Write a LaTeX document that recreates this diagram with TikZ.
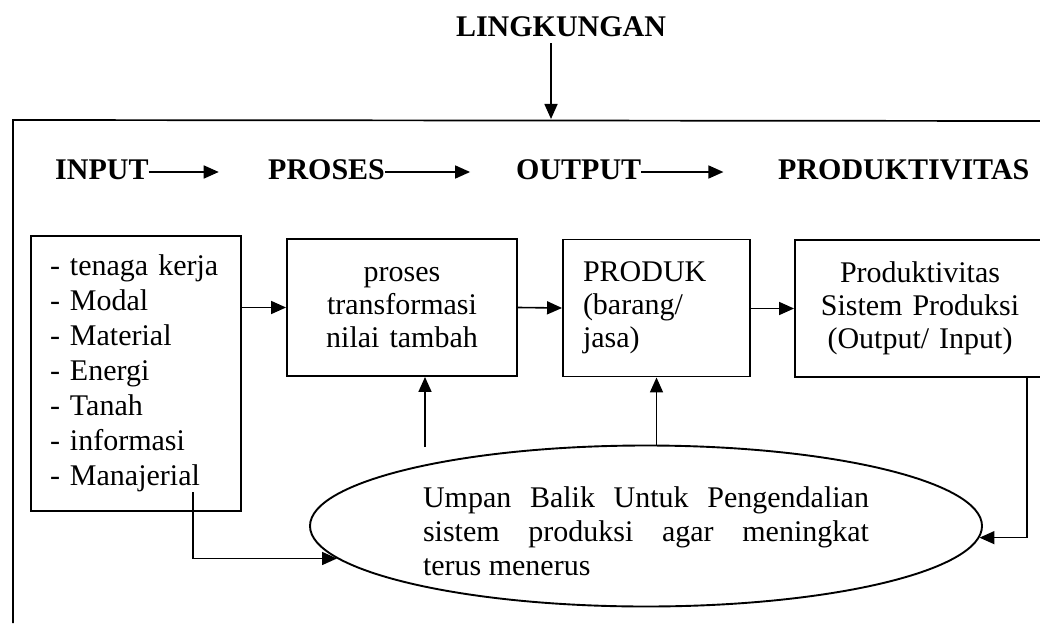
\documentclass[tikz,border=0pt]{standalone}
\usepackage{fontspec}
\setmainfont{Liberation Serif}
\usetikzlibrary{arrows.meta,shapes.geometric,calc}
\tikzset{
  every node/.style={font=\fontsize{30}{33}\selectfont},
  hdr/.style={font=\fontsize{30}{33}\selectfont\bfseries, inner sep=0pt, anchor=base west},
  box/.style={draw, line width=1.9pt, inner ysep=0pt, minimum height=137pt},
  arr/.style={line width=1.6pt, -{Triangle[length=15pt,width=13pt]}},
  frame/.style={line width=1.7pt},
}
\begin{document}
\begin{tikzpicture}[x=1pt,y=-1pt]
\useasboundingbox (0,0) rectangle (1040,623);
\clip (0,0) rectangle (1040,623);
% environment title and arrow
\node[hdr, anchor=base] (ling) at (561,37) {LINGKUNGAN};
\coordinate (lingtip) at (551,119);
\draw[arr] (ling.south -| lingtip) ++(0,6) -- (lingtip);
% frame (open at right and bottom)
\draw[frame] (13,623) -- (13,120) -- (1040,121);
% header row
\node[hdr] (hin)  at (55,179)  {INPUT};
\node[hdr] (hpr)  at (268,179) {PROSES};
\node[hdr] (hout) at (516,179) {OUTPUT};
\node[hdr] (hprod) at (778,179) {PRODUKTIVITAS};
\draw[arr] ([yshift=7pt]hin.base east) -- ++(70,0);
\draw[arr] ([yshift=7pt]hpr.base east) -- ++(85,0);
\draw[arr] ([yshift=7pt]hout.base east) -- ++(82,0);
% boxes
\node[box, font=\fontsize{30}{35}\selectfont, text width=172pt, inner xsep=19pt,
      minimum height=275pt, align=left] (b1) at (136,373.5)
  {- tenaga kerja\\- Modal\\- Material\\- Energi\\- Tanah\\- informasi\\- Manajerial};
\node[box, text width=200pt, inner xsep=15pt, align=center] (b2) at (402,307.5)
  {proses\\transformasi\\nilai tambah};
\node[box, text width=147pt, inner xsep=20pt, align=left] (b3) at (656.5,308)
  {PRODUK\\(barang/\\jasa)};
\node[box, text width=230pt, inner xsep=10pt, align=center] (b4) at (920,308.5)
  {Produktivitas\\Sistem Produksi\\(Output/ Input)};
% feedback ellipse
\node[draw, ellipse, line width=1.9pt, inner sep=0pt, minimum width=672pt,
      minimum height=161pt, font=\fontsize{30}{34}\selectfont] (ell) at (646,526)
  {\parbox{446pt}{\vspace*{10pt}\makebox[446pt][s]{Umpan Balik Untuk Pengendalian}\\
   \makebox[446pt][s]{sistem produksi agar meningkat}\\
   terus menerus}};
% connectors between boxes
\draw[arr] (b1.east |- b2.west) -- (b2.west);
\draw[arr] (b2.east) -- (b3.west);
\draw[arr] (b3.east |- b4.west) -- (b4.west);
% feedback arrows up
\coordinate (u1) at (425,447);
\draw[arr] (u1) -- (u1 |- b2.south);
\draw[arr] (b3.south |- ell.north) -- (b3.south);
% Manajerial to ellipse
\coordinate (mj) at (193,492);
\draw[arr] (mj) |- (ell.186.4);
% productivity back to ellipse
\coordinate (fbx) at (1027,0);
\draw[arr] (b4.south -| fbx) |- (ell.-2);
\end{tikzpicture}
\end{document}
